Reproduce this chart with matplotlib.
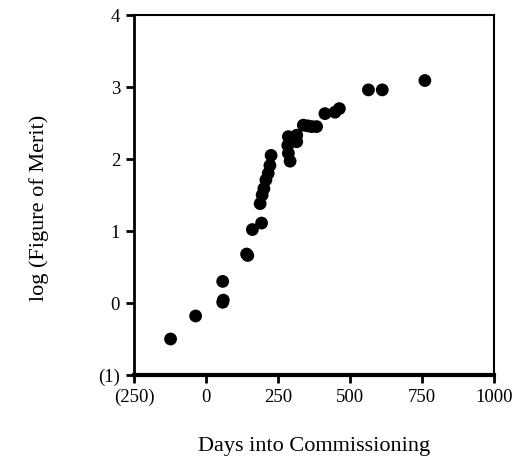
import matplotlib
matplotlib.use("Agg")
import matplotlib.pyplot as plt

# Data (days, log figure of merit)
days = [-123, -36, 58, 58, 60, 141, 145, 161, 193,
        188, 195, 201, 208, 216, 222, 226,
        284, 286, 286, 292, 315, 315,
        338, 353, 367, 384, 413, 448, 463,
        564, 612, 760]
log_fom = [-0.50, -0.18, 0.30, 0.01, 0.04, 0.68, 0.66, 1.02, 1.11,
           1.38, 1.50, 1.59, 1.71, 1.80, 1.91, 2.05,
           2.19, 2.08, 2.31, 1.97, 2.24, 2.33,
           2.47, 2.46, 2.45, 2.45, 2.63, 2.65, 2.70,
           2.96, 2.96, 3.09]

xticks = [-250, 0, 250, 500, 750, 1000]
xtick_labels = ["(250)", "0", "250", "500", "750", "1000"]
yticks = [-1, 0, 1, 2, 3, 4]
ytick_labels = ["(1)", "0", "1", "2", "3", "4"]

plt.rcParams["font.family"] = ["Liberation Serif", "DejaVu Serif"]

fig = plt.figure(figsize=(5.12, 4.65), dpi=100)
ax = fig.add_axes([134 / 512, 1 - 375 / 465, 360 / 512, 360 / 465])

ax.scatter(days, log_fom, s=85, color="black", edgecolors="none", zorder=3)

ax.set_xlim(-250, 1000)
ax.set_ylim(-1, 4)
ax.set_xticks(xticks)
ax.set_xticklabels(xtick_labels)
ax.set_yticks(yticks)
ax.set_yticklabels(ytick_labels)
ax.tick_params(direction="out", length=6, width=2, labelsize=13.5, pad=4)

for side in ["top", "right"]:
    ax.spines[side].set_linewidth(1.5)
ax.spines["left"].set_linewidth(2)
ax.spines["bottom"].set_linewidth(3)

ax.set_xlabel("Days into Commissioning", fontsize=16, labelpad=22)
ax.set_ylabel("log (Figure of Merit)", fontsize=16)
ax.yaxis.set_label_coords(-0.235, 0.465)

fig.savefig("out.png", dpi=100)
plt.close(fig)
